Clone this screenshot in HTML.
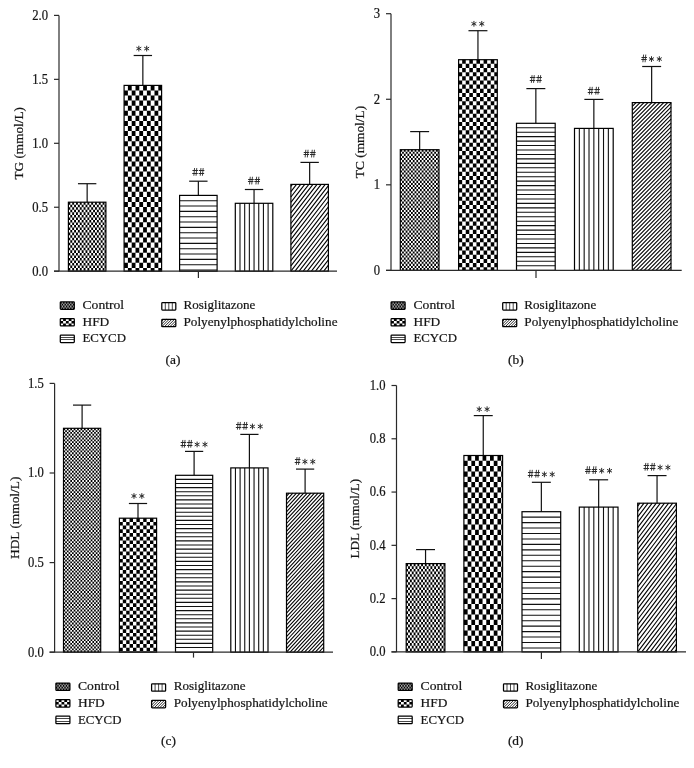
<!DOCTYPE html>
<html><head><meta charset="utf-8"><style>
html,body{margin:0;padding:0;background:#fff;width:694px;height:768px;overflow:hidden}
svg{display:block;will-change:transform}
.t{font-family:"Liberation Serif", serif;font-size:13.4px;fill:#151515;stroke:#151515;stroke-width:0.22px}
.n{font-family:"Liberation Serif", serif;font-size:13.6px;fill:#151515;stroke:#151515;stroke-width:0.22px}
</style></head><body>
<svg width="694" height="768" viewBox="0 0 694 768">
<rect width="694" height="768" fill="#fff"/>
<line x1="59" y1="15.4" x2="59" y2="271.2" stroke="#2a2a2a" stroke-width="1.2"/>
<line x1="54" y1="271.20" x2="59" y2="271.20" stroke="#2a2a2a" stroke-width="1.2"/>
<text transform="translate(48.10 275.60) scale(0.93 1)" text-anchor="end" class="n">0.0</text>
<line x1="54" y1="207.25" x2="59" y2="207.25" stroke="#2a2a2a" stroke-width="1.2"/>
<text transform="translate(48.10 211.65) scale(0.93 1)" text-anchor="end" class="n">0.5</text>
<line x1="54" y1="143.30" x2="59" y2="143.30" stroke="#2a2a2a" stroke-width="1.2"/>
<text transform="translate(48.10 147.70) scale(0.93 1)" text-anchor="end" class="n">1.0</text>
<line x1="54" y1="79.35" x2="59" y2="79.35" stroke="#2a2a2a" stroke-width="1.2"/>
<text transform="translate(48.10 83.75) scale(0.93 1)" text-anchor="end" class="n">1.5</text>
<line x1="54" y1="15.40" x2="59" y2="15.40" stroke="#2a2a2a" stroke-width="1.2"/>
<text transform="translate(48.10 19.80) scale(0.93 1)" text-anchor="end" class="n">2.0</text>
<line x1="87.15" y1="183.7" x2="87.15" y2="202.2" stroke="#111" stroke-width="1.2"/>
<line x1="77.96" y1="183.7" x2="96.34" y2="183.7" stroke="#111" stroke-width="1.2"/>
<rect x="68.4" y="202.2" width="37.5" height="69.00" fill="#fff"/>
<path d="M68.40 202.20H70.30V271.20H68.40ZM72.20 202.20H74.10V271.20H72.20ZM76.00 202.20H77.90V271.20H76.00ZM79.80 202.20H81.70V271.20H79.80ZM83.60 202.20H85.50V271.20H83.60ZM87.40 202.20H89.30V271.20H87.40ZM91.20 202.20H93.10V271.20H91.20ZM95.00 202.20H96.90V271.20H95.00ZM98.80 202.20H100.70V271.20H98.80ZM102.60 202.20H104.50V271.20H102.60ZM68.40 204.73H105.90V207.27H68.40ZM68.40 209.80H105.90V212.34H68.40ZM68.40 214.88H105.90V217.41H68.40ZM68.40 219.94H105.90V222.48H68.40ZM68.40 225.01H105.90V227.55H68.40ZM68.40 230.08H105.90V232.62H68.40ZM68.40 235.15H105.90V237.69H68.40ZM68.40 240.22H105.90V242.76H68.40ZM68.40 245.29H105.90V247.83H68.40ZM68.40 250.37H105.90V252.90H68.40ZM68.40 255.44H105.90V257.97H68.40ZM68.40 260.50H105.90V263.04H68.40ZM68.40 265.57H105.90V268.11H68.40ZM68.40 270.64H105.90V271.20H68.40Z" fill="#000" fill-rule="evenodd"/>
<rect x="68.4" y="202.2" width="37.5" height="69.00" fill="none" stroke="#000" stroke-width="1.2"/>
<line x1="142.85" y1="55.5" x2="142.85" y2="85.4" stroke="#111" stroke-width="1.2"/>
<line x1="133.66" y1="55.5" x2="152.04" y2="55.5" stroke="#111" stroke-width="1.2"/>
<rect x="124.1" y="85.4" width="37.5" height="185.80" fill="#fff"/>
<path d="M127.90 85.40H131.70V271.20H127.90ZM135.50 85.40H139.30V271.20H135.50ZM143.10 85.40H146.90V271.20H143.10ZM150.70 85.40H154.50V271.20H150.70ZM158.30 85.40H161.60V271.20H158.30ZM124.10 90.47H161.60V95.54H124.10ZM124.10 100.61H161.60V105.68H124.10ZM124.10 110.75H161.60V115.82H124.10ZM124.10 120.89H161.60V125.96H124.10ZM124.10 131.03H161.60V136.10H124.10ZM124.10 141.17H161.60V146.24H124.10ZM124.10 151.31H161.60V156.38H124.10ZM124.10 161.45H161.60V166.52H124.10ZM124.10 171.59H161.60V176.66H124.10ZM124.10 181.73H161.60V186.80H124.10ZM124.10 191.87H161.60V196.94H124.10ZM124.10 202.01H161.60V207.08H124.10ZM124.10 212.15H161.60V217.22H124.10ZM124.10 222.29H161.60V227.36H124.10ZM124.10 232.43H161.60V237.50H124.10ZM124.10 242.57H161.60V247.64H124.10ZM124.10 252.71H161.60V257.78H124.10ZM124.10 262.85H161.60V267.92H124.10Z" fill="#000" fill-rule="evenodd"/>
<rect x="124.1" y="85.4" width="37.5" height="185.80" fill="none" stroke="#000" stroke-width="1.2"/>
<path d="M138.83 46.15L138.83 51.05M140.95 47.38L136.70 49.83M140.95 49.83L136.70 47.38" stroke="#2a2a2a" stroke-width="1.0" stroke-linecap="round"/><path d="M146.68 46.15L146.68 51.05M148.80 47.38L144.55 49.83M148.80 49.83L144.55 47.38" stroke="#2a2a2a" stroke-width="1.0" stroke-linecap="round"/>
<line x1="198.35" y1="181.2" x2="198.35" y2="195.4" stroke="#111" stroke-width="1.2"/>
<line x1="189.16" y1="181.2" x2="207.54" y2="181.2" stroke="#111" stroke-width="1.2"/>
<rect x="179.6" y="195.4" width="37.5" height="75.80" fill="#fff"/>
<path d="M179.60 200.73H217.10M179.60 206.06H217.10M179.60 211.39H217.10M179.60 216.72H217.10M179.60 222.05H217.10M179.60 227.38H217.10M179.60 232.71H217.10M179.60 238.04H217.10M179.60 243.37H217.10M179.60 248.70H217.10M179.60 254.03H217.10M179.60 259.36H217.10M179.60 264.69H217.10M179.60 270.02H217.10" stroke="#111" stroke-width="1.1"/>
<rect x="179.6" y="195.4" width="37.5" height="75.80" fill="none" stroke="#000" stroke-width="1.2"/>
<path d="M194.55 168.05L193.85 175.75M196.75 168.05L196.05 175.75" stroke="#2a2a2a" stroke-width="0.9"/><path d="M192.45 170.50H197.95M192.25 173.50H197.75" stroke="#2a2a2a" stroke-width="1.0"/><path d="M200.95 168.05L200.25 175.75M203.15 168.05L202.45 175.75" stroke="#2a2a2a" stroke-width="0.9"/><path d="M198.85 170.50H204.35M198.65 173.50H204.15" stroke="#2a2a2a" stroke-width="1.0"/>
<line x1="254.05" y1="189.5" x2="254.05" y2="203.3" stroke="#111" stroke-width="1.2"/>
<line x1="244.86" y1="189.5" x2="263.24" y2="189.5" stroke="#111" stroke-width="1.2"/>
<rect x="235.3" y="203.3" width="37.5" height="67.90" fill="#fff"/>
<path d="M239.99 203.30V271.20M244.68 203.30V271.20M249.36 203.30V271.20M254.05 203.30V271.20M258.74 203.30V271.20M263.43 203.30V271.20M268.11 203.30V271.20" stroke="#111" stroke-width="1.1"/>
<rect x="235.3" y="203.3" width="37.5" height="67.90" fill="none" stroke="#000" stroke-width="1.2"/>
<path d="M250.25 176.75L249.55 184.45M252.45 176.75L251.75 184.45" stroke="#2a2a2a" stroke-width="0.9"/><path d="M248.15 179.50H253.65M247.95 181.50H253.45" stroke="#2a2a2a" stroke-width="1.0"/><path d="M256.65 176.75L255.95 184.45M258.85 176.75L258.15 184.45" stroke="#2a2a2a" stroke-width="0.9"/><path d="M254.55 179.50H260.05M254.35 181.50H259.85" stroke="#2a2a2a" stroke-width="1.0"/>
<line x1="309.65" y1="162.4" x2="309.65" y2="184.4" stroke="#111" stroke-width="1.2"/>
<line x1="300.46" y1="162.4" x2="318.84" y2="162.4" stroke="#111" stroke-width="1.2"/>
<rect x="290.9" y="184.4" width="37.5" height="86.80" fill="#fff"/>
<path d="M290.90 186.40L292.45 184.40M290.90 191.70L296.55 184.40M290.90 197.00L300.65 184.40M290.90 202.30L304.75 184.40M290.90 207.60L308.85 184.40M290.90 212.90L312.95 184.40M290.90 218.20L317.05 184.40M290.90 223.50L321.15 184.40M290.90 228.80L325.25 184.40M290.90 234.10L328.40 185.62M290.90 239.40L328.40 190.92M290.90 244.70L328.40 196.22M290.90 250.00L328.40 201.52M290.90 255.30L328.40 206.82M290.90 260.60L328.40 212.12M290.90 265.90L328.40 217.42M290.90 271.20L328.40 222.72M295.00 271.20L328.40 228.02M299.10 271.20L328.40 233.32M303.20 271.20L328.40 238.62M307.30 271.20L328.40 243.92M311.40 271.20L328.40 249.22M315.50 271.20L328.40 254.52M319.60 271.20L328.40 259.82M323.70 271.20L328.40 265.12M327.80 271.20L328.40 270.42" stroke="#000" stroke-width="1.1"/>
<rect x="290.9" y="184.4" width="37.5" height="86.80" fill="none" stroke="#000" stroke-width="1.2"/>
<path d="M305.85 149.75L305.15 157.45M308.05 149.75L307.35 157.45" stroke="#2a2a2a" stroke-width="0.9"/><path d="M303.75 152.50H309.25M303.55 154.50H309.05" stroke="#2a2a2a" stroke-width="1.0"/><path d="M312.25 149.75L311.55 157.45M314.45 149.75L313.75 157.45" stroke="#2a2a2a" stroke-width="0.9"/><path d="M310.15 152.50H315.65M309.95 154.50H315.45" stroke="#2a2a2a" stroke-width="1.0"/>
<line x1="54" y1="271.2" x2="337" y2="271.2" stroke="#2a2a2a" stroke-width="1.2"/>
<line x1="198.4" y1="271.2" x2="198.4" y2="278" stroke="#2a2a2a" stroke-width="1.2"/>
<text transform="translate(22.8 143.30) rotate(-90)" text-anchor="middle" class="t" textLength="72.4" lengthAdjust="spacingAndGlyphs">TG (mmol/L)</text>
<rect x="60.30" y="301.90" width="14.0" height="7.4" fill="#aaa"/>
<path d="M60.30 301.90H61.70V309.30H60.30ZM63.10 301.90H64.50V309.30H63.10ZM65.90 301.90H67.30V309.30H65.90ZM68.70 301.90H70.10V309.30H68.70ZM71.50 301.90H72.90V309.30H71.50ZM60.30 303.75H74.30V305.60H60.30ZM60.30 307.45H74.30V309.30H60.30Z" fill="#000" fill-rule="evenodd"/>
<rect x="60.30" y="301.90" width="14.0" height="7.4" rx="0.7" fill="none" stroke="#000" stroke-width="1.25"/>
<text x="82.50" y="308.70" class="t" textLength="41.6" lengthAdjust="spacingAndGlyphs">Control</text>
<rect x="60.30" y="318.50" width="14.0" height="7.4" fill="#fff"/>
<path d="M63.10 318.50H65.90V325.90H63.10ZM68.70 318.50H71.50V325.90H68.70ZM60.30 320.97H74.30V323.44H60.30Z" fill="#000" fill-rule="evenodd"/>
<rect x="60.30" y="318.50" width="14.0" height="7.4" rx="0.7" fill="none" stroke="#000" stroke-width="1.25"/>
<text x="82.50" y="325.57" class="t" textLength="26.8" lengthAdjust="spacingAndGlyphs">HFD</text>
<rect x="60.30" y="335.10" width="14.0" height="7.4" fill="#fff"/>
<path d="M60.30 337.5H74.30M60.30 339.5H74.30" stroke="#333" stroke-width="0.9"/>
<rect x="60.30" y="335.10" width="14.0" height="7.4" rx="0.7" fill="none" stroke="#000" stroke-width="1.25"/>
<text x="82.50" y="342.45" class="t" textLength="43.4" lengthAdjust="spacingAndGlyphs">ECYCD</text>
<rect x="161.80" y="302.65" width="14.0" height="7.4" fill="#fff"/>
<path d="M165.30 302.65V310.05M168.80 302.65V310.05M172.30 302.65V310.05" stroke="#333" stroke-width="0.9"/>
<rect x="161.80" y="302.65" width="14.0" height="7.4" rx="0.7" fill="none" stroke="#000" stroke-width="1.25"/>
<text x="183.50" y="309.20" class="t" textLength="71.9" lengthAdjust="spacingAndGlyphs">Rosiglitazone</text>
<rect x="161.80" y="319.25" width="14.0" height="7.4" fill="#fff"/>
<path d="M161.80 321.25L163.80 319.25M161.80 323.95L166.50 319.25M161.80 326.65L169.20 319.25M164.50 326.65L171.90 319.25M167.20 326.65L174.60 319.25M169.90 326.65L175.80 320.75M172.60 326.65L175.80 323.45M175.30 326.65L175.80 326.15" stroke="#111" stroke-width="0.9"/>
<rect x="161.80" y="319.25" width="14.0" height="7.4" rx="0.7" fill="none" stroke="#000" stroke-width="1.25"/>
<text x="183.50" y="326.07" class="t" textLength="154.0" lengthAdjust="spacingAndGlyphs">Polyenylphosphatidylcholine</text>
<text x="173" y="364.0" text-anchor="middle" class="t">(a)</text>
<line x1="391" y1="13.7" x2="391" y2="270.4" stroke="#2a2a2a" stroke-width="1.2"/>
<line x1="386" y1="270.40" x2="391" y2="270.40" stroke="#2a2a2a" stroke-width="1.2"/>
<text transform="translate(380.10 274.80) scale(0.93 1)" text-anchor="end" class="n">0</text>
<line x1="386" y1="184.83" x2="391" y2="184.83" stroke="#2a2a2a" stroke-width="1.2"/>
<text transform="translate(380.10 189.23) scale(0.93 1)" text-anchor="end" class="n">1</text>
<line x1="386" y1="99.27" x2="391" y2="99.27" stroke="#2a2a2a" stroke-width="1.2"/>
<text transform="translate(380.10 103.67) scale(0.93 1)" text-anchor="end" class="n">2</text>
<line x1="386" y1="13.70" x2="391" y2="13.70" stroke="#2a2a2a" stroke-width="1.2"/>
<text transform="translate(380.10 18.10) scale(0.93 1)" text-anchor="end" class="n">3</text>
<line x1="419.65" y1="131.6" x2="419.65" y2="149.7" stroke="#111" stroke-width="1.2"/>
<line x1="410.17" y1="131.6" x2="429.13" y2="131.6" stroke="#111" stroke-width="1.2"/>
<rect x="400.3" y="149.7" width="38.7" height="120.70" fill="#fff"/>
<path d="M400.30 149.70H402.09V270.40H400.30ZM403.87 149.70H405.66V270.40H403.87ZM407.44 149.70H409.23V270.40H407.44ZM411.01 149.70H412.80V270.40H411.01ZM414.58 149.70H416.37V270.40H414.58ZM418.15 149.70H419.94V270.40H418.15ZM421.72 149.70H423.50V270.40H421.72ZM425.29 149.70H427.07V270.40H425.29ZM428.86 149.70H430.64V270.40H428.86ZM432.43 149.70H434.22V270.40H432.43ZM436.00 149.70H437.79V270.40H436.00ZM400.30 151.77H439.00V153.85H400.30ZM400.30 155.92H439.00V158.00H400.30ZM400.30 160.07H439.00V162.15H400.30ZM400.30 164.22H439.00V166.30H400.30ZM400.30 168.38H439.00V170.45H400.30ZM400.30 172.52H439.00V174.60H400.30ZM400.30 176.67H439.00V178.75H400.30ZM400.30 180.82H439.00V182.90H400.30ZM400.30 184.97H439.00V187.05H400.30ZM400.30 189.12H439.00V191.20H400.30ZM400.30 193.27H439.00V195.35H400.30ZM400.30 197.42H439.00V199.50H400.30ZM400.30 201.57H439.00V203.65H400.30ZM400.30 205.72H439.00V207.80H400.30ZM400.30 209.88H439.00V211.95H400.30ZM400.30 214.02H439.00V216.10H400.30ZM400.30 218.18H439.00V220.25H400.30ZM400.30 222.32H439.00V224.40H400.30ZM400.30 226.47H439.00V228.55H400.30ZM400.30 230.62H439.00V232.70H400.30ZM400.30 234.77H439.00V236.85H400.30ZM400.30 238.93H439.00V241.00H400.30ZM400.30 243.07H439.00V245.15H400.30ZM400.30 247.22H439.00V249.30H400.30ZM400.30 251.38H439.00V253.45H400.30ZM400.30 255.52H439.00V257.60H400.30ZM400.30 259.68H439.00V261.75H400.30ZM400.30 263.82H439.00V265.90H400.30ZM400.30 267.98H439.00V270.05H400.30Z" fill="#000" fill-rule="evenodd"/>
<rect x="400.3" y="149.7" width="38.7" height="120.70" fill="none" stroke="#000" stroke-width="1.2"/>
<line x1="477.95" y1="30.7" x2="477.95" y2="59.7" stroke="#111" stroke-width="1.2"/>
<line x1="468.47" y1="30.7" x2="487.43" y2="30.7" stroke="#111" stroke-width="1.2"/>
<rect x="458.6" y="59.7" width="38.7" height="210.70" fill="#fff"/>
<path d="M462.17 59.70H465.74V270.40H462.17ZM469.31 59.70H472.88V270.40H469.31ZM476.45 59.70H480.02V270.40H476.45ZM483.59 59.70H487.16V270.40H483.59ZM490.73 59.70H494.30V270.40H490.73ZM458.60 63.85H497.30V68.00H458.60ZM458.60 72.15H497.30V76.30H458.60ZM458.60 80.45H497.30V84.60H458.60ZM458.60 88.75H497.30V92.90H458.60ZM458.60 97.05H497.30V101.20H458.60ZM458.60 105.35H497.30V109.50H458.60ZM458.60 113.65H497.30V117.80H458.60ZM458.60 121.95H497.30V126.10H458.60ZM458.60 130.25H497.30V134.40H458.60ZM458.60 138.55H497.30V142.70H458.60ZM458.60 146.85H497.30V151.00H458.60ZM458.60 155.15H497.30V159.30H458.60ZM458.60 163.45H497.30V167.60H458.60ZM458.60 171.75H497.30V175.90H458.60ZM458.60 180.05H497.30V184.20H458.60ZM458.60 188.35H497.30V192.50H458.60ZM458.60 196.65H497.30V200.80H458.60ZM458.60 204.95H497.30V209.10H458.60ZM458.60 213.25H497.30V217.40H458.60ZM458.60 221.55H497.30V225.70H458.60ZM458.60 229.85H497.30V234.00H458.60ZM458.60 238.15H497.30V242.30H458.60ZM458.60 246.45H497.30V250.60H458.60ZM458.60 254.75H497.30V258.90H458.60ZM458.60 263.05H497.30V267.20H458.60Z" fill="#000" fill-rule="evenodd"/>
<rect x="458.6" y="59.7" width="38.7" height="210.70" fill="none" stroke="#000" stroke-width="1.2"/>
<path d="M473.93 21.35L473.93 26.25M476.05 22.57L471.80 25.03M476.05 25.03L471.80 22.57" stroke="#2a2a2a" stroke-width="1.0" stroke-linecap="round"/><path d="M481.78 21.35L481.78 26.25M483.90 22.57L479.65 25.03M483.90 25.03L479.65 22.57" stroke="#2a2a2a" stroke-width="1.0" stroke-linecap="round"/>
<line x1="535.85" y1="88.6" x2="535.85" y2="123.3" stroke="#111" stroke-width="1.2"/>
<line x1="526.37" y1="88.6" x2="545.33" y2="88.6" stroke="#111" stroke-width="1.2"/>
<rect x="516.5" y="123.3" width="38.7" height="147.10" fill="#fff"/>
<path d="M516.50 127.75H555.20M516.50 132.20H555.20M516.50 136.65H555.20M516.50 141.10H555.20M516.50 145.55H555.20M516.50 150.00H555.20M516.50 154.45H555.20M516.50 158.90H555.20M516.50 163.35H555.20M516.50 167.80H555.20M516.50 172.25H555.20M516.50 176.70H555.20M516.50 181.15H555.20M516.50 185.60H555.20M516.50 190.05H555.20M516.50 194.50H555.20M516.50 198.95H555.20M516.50 203.40H555.20M516.50 207.85H555.20M516.50 212.30H555.20M516.50 216.75H555.20M516.50 221.20H555.20M516.50 225.65H555.20M516.50 230.10H555.20M516.50 234.55H555.20M516.50 239.00H555.20M516.50 243.45H555.20M516.50 247.90H555.20M516.50 252.35H555.20M516.50 256.80H555.20M516.50 261.25H555.20M516.50 265.70H555.20" stroke="#111" stroke-width="1.1"/>
<rect x="516.5" y="123.3" width="38.7" height="147.10" fill="none" stroke="#000" stroke-width="1.2"/>
<path d="M532.05 75.15L531.35 82.85M534.25 75.15L533.55 82.85" stroke="#2a2a2a" stroke-width="0.9"/><path d="M529.95 77.50H535.45M529.75 80.50H535.25" stroke="#2a2a2a" stroke-width="1.0"/><path d="M538.45 75.15L537.75 82.85M540.65 75.15L539.95 82.85" stroke="#2a2a2a" stroke-width="0.9"/><path d="M536.35 77.50H541.85M536.15 80.50H541.65" stroke="#2a2a2a" stroke-width="1.0"/>
<line x1="593.85" y1="99.4" x2="593.85" y2="128.4" stroke="#111" stroke-width="1.2"/>
<line x1="584.37" y1="99.4" x2="603.33" y2="99.4" stroke="#111" stroke-width="1.2"/>
<rect x="574.5" y="128.4" width="38.7" height="142.00" fill="#fff"/>
<path d="M579.34 128.40V270.40M584.17 128.40V270.40M589.01 128.40V270.40M593.85 128.40V270.40M598.69 128.40V270.40M603.52 128.40V270.40M608.36 128.40V270.40" stroke="#111" stroke-width="1.1"/>
<rect x="574.5" y="128.4" width="38.7" height="142.00" fill="none" stroke="#000" stroke-width="1.2"/>
<path d="M590.05 86.85L589.35 94.55M592.25 86.85L591.55 94.55" stroke="#2a2a2a" stroke-width="0.9"/><path d="M587.95 89.50H593.45M587.75 92.50H593.25" stroke="#2a2a2a" stroke-width="1.0"/><path d="M596.45 86.85L595.75 94.55M598.65 86.85L597.95 94.55" stroke="#2a2a2a" stroke-width="0.9"/><path d="M594.35 89.50H599.85M594.15 92.50H599.65" stroke="#2a2a2a" stroke-width="1.0"/>
<line x1="651.65" y1="66.5" x2="651.65" y2="102.6" stroke="#111" stroke-width="1.2"/>
<line x1="642.17" y1="66.5" x2="661.13" y2="66.5" stroke="#111" stroke-width="1.2"/>
<rect x="632.3" y="102.6" width="38.7" height="167.80" fill="#fff"/>
<path d="M632.30 106.40L636.05 102.60M632.30 110.40L640.00 102.60M632.30 114.40L643.95 102.60M632.30 118.40L647.90 102.60M632.30 122.40L651.85 102.60M632.30 126.40L655.80 102.60M632.30 130.40L659.75 102.60M632.30 134.40L663.70 102.60M632.30 138.40L667.65 102.60M632.30 142.40L671.00 103.21M632.30 146.40L671.00 107.21M632.30 150.40L671.00 111.21M632.30 154.40L671.00 115.21M632.30 158.40L671.00 119.21M632.30 162.40L671.00 123.21M632.30 166.40L671.00 127.21M632.30 170.40L671.00 131.21M632.30 174.40L671.00 135.21M632.30 178.40L671.00 139.21M632.30 182.40L671.00 143.21M632.30 186.40L671.00 147.21M632.30 190.40L671.00 151.21M632.30 194.40L671.00 155.21M632.30 198.40L671.00 159.21M632.30 202.40L671.00 163.21M632.30 206.40L671.00 167.21M632.30 210.40L671.00 171.21M632.30 214.40L671.00 175.21M632.30 218.40L671.00 179.21M632.30 222.40L671.00 183.21M632.30 226.40L671.00 187.21M632.30 230.40L671.00 191.21M632.30 234.40L671.00 195.21M632.30 238.40L671.00 199.21M632.30 242.40L671.00 203.21M632.30 246.40L671.00 207.21M632.30 250.40L671.00 211.21M632.30 254.40L671.00 215.21M632.30 258.40L671.00 219.21M632.30 262.40L671.00 223.21M632.30 266.40L671.00 227.21M632.30 270.40L671.00 231.21M636.25 270.40L671.00 235.21M640.20 270.40L671.00 239.21M644.15 270.40L671.00 243.21M648.10 270.40L671.00 247.21M652.05 270.40L671.00 251.21M656.00 270.40L671.00 255.21M659.95 270.40L671.00 259.21M663.90 270.40L671.00 263.21M667.85 270.40L671.00 267.21" stroke="#000" stroke-width="1.1"/>
<rect x="632.3" y="102.6" width="38.7" height="167.80" fill="none" stroke="#000" stroke-width="1.2"/>
<path d="M643.58 54.55L642.88 62.25M645.77 54.55L645.08 62.25" stroke="#2a2a2a" stroke-width="0.9"/><path d="M641.48 57.50H646.98M641.27 59.50H646.77" stroke="#2a2a2a" stroke-width="1.0"/><path d="M651.48 56.60L651.48 61.50M653.60 57.82L649.35 60.27M653.60 60.27L649.35 57.82" stroke="#2a2a2a" stroke-width="1.0" stroke-linecap="round"/><path d="M659.32 56.60L659.32 61.50M661.45 57.82L657.20 60.27M661.45 60.27L657.20 57.82" stroke="#2a2a2a" stroke-width="1.0" stroke-linecap="round"/>
<line x1="386" y1="270.4" x2="681.7" y2="270.4" stroke="#2a2a2a" stroke-width="1.2"/>
<line x1="536" y1="270.4" x2="536" y2="278" stroke="#2a2a2a" stroke-width="1.2"/>
<text transform="translate(363.9 142.05) rotate(-90)" text-anchor="middle" class="t" textLength="72.4" lengthAdjust="spacingAndGlyphs">TC (mmol/L)</text>
<rect x="391.10" y="301.90" width="14.0" height="7.4" fill="#aaa"/>
<path d="M391.10 301.90H392.50V309.30H391.10ZM393.90 301.90H395.30V309.30H393.90ZM396.70 301.90H398.10V309.30H396.70ZM399.50 301.90H400.90V309.30H399.50ZM402.30 301.90H403.70V309.30H402.30ZM391.10 303.75H405.10V305.60H391.10ZM391.10 307.45H405.10V309.30H391.10Z" fill="#000" fill-rule="evenodd"/>
<rect x="391.10" y="301.90" width="14.0" height="7.4" rx="0.7" fill="none" stroke="#000" stroke-width="1.25"/>
<text x="413.50" y="308.70" class="t" textLength="41.6" lengthAdjust="spacingAndGlyphs">Control</text>
<rect x="391.10" y="318.50" width="14.0" height="7.4" fill="#fff"/>
<path d="M393.90 318.50H396.70V325.90H393.90ZM399.50 318.50H402.30V325.90H399.50ZM391.10 320.97H405.10V323.44H391.10Z" fill="#000" fill-rule="evenodd"/>
<rect x="391.10" y="318.50" width="14.0" height="7.4" rx="0.7" fill="none" stroke="#000" stroke-width="1.25"/>
<text x="413.50" y="325.57" class="t" textLength="26.8" lengthAdjust="spacingAndGlyphs">HFD</text>
<rect x="391.10" y="335.10" width="14.0" height="7.4" fill="#fff"/>
<path d="M391.10 337.5H405.10M391.10 339.5H405.10" stroke="#333" stroke-width="0.9"/>
<rect x="391.10" y="335.10" width="14.0" height="7.4" rx="0.7" fill="none" stroke="#000" stroke-width="1.25"/>
<text x="413.50" y="342.45" class="t" textLength="43.4" lengthAdjust="spacingAndGlyphs">ECYCD</text>
<rect x="502.70" y="302.65" width="14.0" height="7.4" fill="#fff"/>
<path d="M506.20 302.65V310.05M509.70 302.65V310.05M513.20 302.65V310.05" stroke="#333" stroke-width="0.9"/>
<rect x="502.70" y="302.65" width="14.0" height="7.4" rx="0.7" fill="none" stroke="#000" stroke-width="1.25"/>
<text x="524.30" y="309.20" class="t" textLength="71.9" lengthAdjust="spacingAndGlyphs">Rosiglitazone</text>
<rect x="502.70" y="319.25" width="14.0" height="7.4" fill="#fff"/>
<path d="M502.70 321.25L504.70 319.25M502.70 323.95L507.40 319.25M502.70 326.65L510.10 319.25M505.40 326.65L512.80 319.25M508.10 326.65L515.50 319.25M510.80 326.65L516.70 320.75M513.50 326.65L516.70 323.45M516.20 326.65L516.70 326.15" stroke="#111" stroke-width="0.9"/>
<rect x="502.70" y="319.25" width="14.0" height="7.4" rx="0.7" fill="none" stroke="#000" stroke-width="1.25"/>
<text x="524.30" y="326.07" class="t" textLength="154.0" lengthAdjust="spacingAndGlyphs">Polyenylphosphatidylcholine</text>
<text x="515.9" y="364.0" text-anchor="middle" class="t">(b)</text>
<line x1="54.6" y1="383.4" x2="54.6" y2="652.2" stroke="#2a2a2a" stroke-width="1.2"/>
<line x1="49.6" y1="652.20" x2="54.6" y2="652.20" stroke="#2a2a2a" stroke-width="1.2"/>
<text transform="translate(43.70 656.60) scale(0.93 1)" text-anchor="end" class="n">0.0</text>
<line x1="49.6" y1="562.60" x2="54.6" y2="562.60" stroke="#2a2a2a" stroke-width="1.2"/>
<text transform="translate(43.70 567.00) scale(0.93 1)" text-anchor="end" class="n">0.5</text>
<line x1="49.6" y1="473.00" x2="54.6" y2="473.00" stroke="#2a2a2a" stroke-width="1.2"/>
<text transform="translate(43.70 477.40) scale(0.93 1)" text-anchor="end" class="n">1.0</text>
<line x1="49.6" y1="383.40" x2="54.6" y2="383.40" stroke="#2a2a2a" stroke-width="1.2"/>
<text transform="translate(43.70 387.80) scale(0.93 1)" text-anchor="end" class="n">1.5</text>
<line x1="82.10" y1="405.1" x2="82.10" y2="428.3" stroke="#111" stroke-width="1.2"/>
<line x1="72.99" y1="405.1" x2="91.21" y2="405.1" stroke="#111" stroke-width="1.2"/>
<rect x="63.5" y="428.3" width="37.2" height="223.90" fill="#fff"/>
<path d="M63.50 428.30H65.20V652.20H63.50ZM66.90 428.30H68.60V652.20H66.90ZM70.30 428.30H72.00V652.20H70.30ZM73.70 428.30H75.40V652.20H73.70ZM77.10 428.30H78.80V652.20H77.10ZM80.50 428.30H82.20V652.20H80.50ZM83.90 428.30H85.60V652.20H83.90ZM87.30 428.30H89.00V652.20H87.30ZM90.70 428.30H92.40V652.20H90.70ZM94.10 428.30H95.80V652.20H94.10ZM97.50 428.30H99.20V652.20H97.50ZM63.50 430.15H100.70V432.00H63.50ZM63.50 433.85H100.70V435.70H63.50ZM63.50 437.55H100.70V439.40H63.50ZM63.50 441.25H100.70V443.10H63.50ZM63.50 444.95H100.70V446.80H63.50ZM63.50 448.65H100.70V450.50H63.50ZM63.50 452.35H100.70V454.20H63.50ZM63.50 456.05H100.70V457.90H63.50ZM63.50 459.75H100.70V461.60H63.50ZM63.50 463.45H100.70V465.30H63.50ZM63.50 467.15H100.70V469.00H63.50ZM63.50 470.85H100.70V472.70H63.50ZM63.50 474.55H100.70V476.40H63.50ZM63.50 478.25H100.70V480.10H63.50ZM63.50 481.95H100.70V483.80H63.50ZM63.50 485.65H100.70V487.50H63.50ZM63.50 489.35H100.70V491.20H63.50ZM63.50 493.05H100.70V494.90H63.50ZM63.50 496.75H100.70V498.60H63.50ZM63.50 500.45H100.70V502.30H63.50ZM63.50 504.15H100.70V506.00H63.50ZM63.50 507.85H100.70V509.70H63.50ZM63.50 511.55H100.70V513.40H63.50ZM63.50 515.25H100.70V517.10H63.50ZM63.50 518.95H100.70V520.80H63.50ZM63.50 522.65H100.70V524.50H63.50ZM63.50 526.35H100.70V528.20H63.50ZM63.50 530.05H100.70V531.90H63.50ZM63.50 533.75H100.70V535.60H63.50ZM63.50 537.45H100.70V539.30H63.50ZM63.50 541.15H100.70V543.00H63.50ZM63.50 544.85H100.70V546.70H63.50ZM63.50 548.55H100.70V550.40H63.50ZM63.50 552.25H100.70V554.10H63.50ZM63.50 555.95H100.70V557.80H63.50ZM63.50 559.65H100.70V561.50H63.50ZM63.50 563.35H100.70V565.20H63.50ZM63.50 567.05H100.70V568.90H63.50ZM63.50 570.75H100.70V572.60H63.50ZM63.50 574.45H100.70V576.30H63.50ZM63.50 578.15H100.70V580.00H63.50ZM63.50 581.85H100.70V583.70H63.50ZM63.50 585.55H100.70V587.40H63.50ZM63.50 589.25H100.70V591.10H63.50ZM63.50 592.95H100.70V594.80H63.50ZM63.50 596.65H100.70V598.50H63.50ZM63.50 600.35H100.70V602.20H63.50ZM63.50 604.05H100.70V605.90H63.50ZM63.50 607.75H100.70V609.60H63.50ZM63.50 611.45H100.70V613.30H63.50ZM63.50 615.15H100.70V617.00H63.50ZM63.50 618.85H100.70V620.70H63.50ZM63.50 622.55H100.70V624.40H63.50ZM63.50 626.25H100.70V628.10H63.50ZM63.50 629.95H100.70V631.80H63.50ZM63.50 633.65H100.70V635.50H63.50ZM63.50 637.35H100.70V639.20H63.50ZM63.50 641.05H100.70V642.90H63.50ZM63.50 644.75H100.70V646.60H63.50ZM63.50 648.45H100.70V650.30H63.50ZM63.50 652.15H100.70V652.20H63.50Z" fill="#000" fill-rule="evenodd"/>
<rect x="63.5" y="428.3" width="37.2" height="223.90" fill="none" stroke="#000" stroke-width="1.2"/>
<line x1="138.00" y1="503.5" x2="138.00" y2="518.2" stroke="#111" stroke-width="1.2"/>
<line x1="128.89" y1="503.5" x2="147.11" y2="503.5" stroke="#111" stroke-width="1.2"/>
<rect x="119.4" y="518.2" width="37.2" height="134.00" fill="#fff"/>
<path d="M122.80 518.20H126.20V652.20H122.80ZM129.60 518.20H133.00V652.20H129.60ZM136.40 518.20H139.80V652.20H136.40ZM143.20 518.20H146.60V652.20H143.20ZM150.00 518.20H153.40V652.20H150.00ZM119.40 521.90H156.60V525.60H119.40ZM119.40 529.30H156.60V533.00H119.40ZM119.40 536.70H156.60V540.40H119.40ZM119.40 544.10H156.60V547.80H119.40ZM119.40 551.50H156.60V555.20H119.40ZM119.40 558.90H156.60V562.60H119.40ZM119.40 566.30H156.60V570.00H119.40ZM119.40 573.70H156.60V577.40H119.40ZM119.40 581.10H156.60V584.80H119.40ZM119.40 588.50H156.60V592.20H119.40ZM119.40 595.90H156.60V599.60H119.40ZM119.40 603.30H156.60V607.00H119.40ZM119.40 610.70H156.60V614.40H119.40ZM119.40 618.10H156.60V621.80H119.40ZM119.40 625.50H156.60V629.20H119.40ZM119.40 632.90H156.60V636.60H119.40ZM119.40 640.30H156.60V644.00H119.40ZM119.40 647.70H156.60V651.40H119.40Z" fill="#000" fill-rule="evenodd"/>
<rect x="119.4" y="518.2" width="37.2" height="134.00" fill="none" stroke="#000" stroke-width="1.2"/>
<path d="M133.98 493.55L133.98 498.45M136.10 494.77L131.85 497.23M136.10 497.23L131.85 494.77" stroke="#2a2a2a" stroke-width="1.0" stroke-linecap="round"/><path d="M141.83 493.55L141.83 498.45M143.95 494.77L139.70 497.23M143.95 497.23L139.70 494.77" stroke="#2a2a2a" stroke-width="1.0" stroke-linecap="round"/>
<line x1="194.10" y1="451.4" x2="194.10" y2="475.3" stroke="#111" stroke-width="1.2"/>
<line x1="184.99" y1="451.4" x2="203.21" y2="451.4" stroke="#111" stroke-width="1.2"/>
<rect x="175.5" y="475.3" width="37.2" height="176.90" fill="#fff"/>
<path d="M175.50 479.40H212.70M175.50 483.50H212.70M175.50 487.60H212.70M175.50 491.70H212.70M175.50 495.80H212.70M175.50 499.90H212.70M175.50 504.00H212.70M175.50 508.10H212.70M175.50 512.20H212.70M175.50 516.30H212.70M175.50 520.40H212.70M175.50 524.50H212.70M175.50 528.60H212.70M175.50 532.70H212.70M175.50 536.80H212.70M175.50 540.90H212.70M175.50 545.00H212.70M175.50 549.10H212.70M175.50 553.20H212.70M175.50 557.30H212.70M175.50 561.40H212.70M175.50 565.50H212.70M175.50 569.60H212.70M175.50 573.70H212.70M175.50 577.80H212.70M175.50 581.90H212.70M175.50 586.00H212.70M175.50 590.10H212.70M175.50 594.20H212.70M175.50 598.30H212.70M175.50 602.40H212.70M175.50 606.50H212.70M175.50 610.60H212.70M175.50 614.70H212.70M175.50 618.80H212.70M175.50 622.90H212.70M175.50 627.00H212.70M175.50 631.10H212.70M175.50 635.20H212.70M175.50 639.30H212.70M175.50 643.40H212.70M175.50 647.50H212.70" stroke="#111" stroke-width="1.1"/>
<rect x="175.5" y="475.3" width="37.2" height="176.90" fill="none" stroke="#000" stroke-width="1.2"/>
<path d="M182.82 439.95L182.12 447.65M185.03 439.95L184.32 447.65" stroke="#2a2a2a" stroke-width="0.9"/><path d="M180.72 442.50H186.22M180.53 445.50H186.03" stroke="#2a2a2a" stroke-width="1.0"/><path d="M189.22 439.95L188.53 447.65M191.43 439.95L190.72 447.65" stroke="#2a2a2a" stroke-width="0.9"/><path d="M187.12 442.50H192.62M186.93 445.50H192.43" stroke="#2a2a2a" stroke-width="1.0"/><path d="M197.12 442.00L197.12 446.90M199.25 443.22L195.00 445.68M199.25 445.68L195.00 443.22" stroke="#2a2a2a" stroke-width="1.0" stroke-linecap="round"/><path d="M204.98 442.00L204.98 446.90M207.10 443.22L202.85 445.68M207.10 445.68L202.85 443.22" stroke="#2a2a2a" stroke-width="1.0" stroke-linecap="round"/>
<line x1="249.40" y1="434.4" x2="249.40" y2="467.9" stroke="#111" stroke-width="1.2"/>
<line x1="240.29" y1="434.4" x2="258.51" y2="434.4" stroke="#111" stroke-width="1.2"/>
<rect x="230.8" y="467.9" width="37.2" height="184.30" fill="#fff"/>
<path d="M235.45 467.90V652.20M240.10 467.90V652.20M244.75 467.90V652.20M249.40 467.90V652.20M254.05 467.90V652.20M258.70 467.90V652.20M263.35 467.90V652.20" stroke="#111" stroke-width="1.1"/>
<rect x="230.8" y="467.9" width="37.2" height="184.30" fill="none" stroke="#000" stroke-width="1.2"/>
<path d="M238.12 421.95L237.43 429.65M240.33 421.95L239.62 429.65" stroke="#2a2a2a" stroke-width="0.9"/><path d="M236.03 424.50H241.53M235.83 427.50H241.33" stroke="#2a2a2a" stroke-width="1.0"/><path d="M244.53 421.95L243.83 429.65M246.73 421.95L246.03 429.65" stroke="#2a2a2a" stroke-width="0.9"/><path d="M242.43 424.50H247.93M242.23 427.50H247.73" stroke="#2a2a2a" stroke-width="1.0"/><path d="M252.43 424.00L252.43 428.90M254.55 425.22L250.30 427.68M254.55 427.68L250.30 425.22" stroke="#2a2a2a" stroke-width="1.0" stroke-linecap="round"/><path d="M260.28 424.00L260.28 428.90M262.40 425.22L258.15 427.68M262.40 427.68L258.15 425.22" stroke="#2a2a2a" stroke-width="1.0" stroke-linecap="round"/>
<line x1="305.10" y1="469.1" x2="305.10" y2="493.2" stroke="#111" stroke-width="1.2"/>
<line x1="295.99" y1="469.1" x2="314.21" y2="469.1" stroke="#111" stroke-width="1.2"/>
<rect x="286.5" y="493.2" width="37.2" height="159.00" fill="#fff"/>
<path d="M286.50 496.20L289.27 493.20M286.50 500.10L292.87 493.20M286.50 504.00L296.47 493.20M286.50 507.90L300.07 493.20M286.50 511.80L303.67 493.20M286.50 515.70L307.27 493.20M286.50 519.60L310.87 493.20M286.50 523.50L314.47 493.20M286.50 527.40L318.07 493.20M286.50 531.30L321.67 493.20M286.50 535.20L323.70 494.90M286.50 539.10L323.70 498.80M286.50 543.00L323.70 502.70M286.50 546.90L323.70 506.60M286.50 550.80L323.70 510.50M286.50 554.70L323.70 514.40M286.50 558.60L323.70 518.30M286.50 562.50L323.70 522.20M286.50 566.40L323.70 526.10M286.50 570.30L323.70 530.00M286.50 574.20L323.70 533.90M286.50 578.10L323.70 537.80M286.50 582.00L323.70 541.70M286.50 585.90L323.70 545.60M286.50 589.80L323.70 549.50M286.50 593.70L323.70 553.40M286.50 597.60L323.70 557.30M286.50 601.50L323.70 561.20M286.50 605.40L323.70 565.10M286.50 609.30L323.70 569.00M286.50 613.20L323.70 572.90M286.50 617.10L323.70 576.80M286.50 621.00L323.70 580.70M286.50 624.90L323.70 584.60M286.50 628.80L323.70 588.50M286.50 632.70L323.70 592.40M286.50 636.60L323.70 596.30M286.50 640.50L323.70 600.20M286.50 644.40L323.70 604.10M286.50 648.30L323.70 608.00M286.50 652.20L323.70 611.90M290.10 652.20L323.70 615.80M293.70 652.20L323.70 619.70M297.30 652.20L323.70 623.60M300.90 652.20L323.70 627.50M304.50 652.20L323.70 631.40M308.10 652.20L323.70 635.30M311.70 652.20L323.70 639.20M315.30 652.20L323.70 643.10M318.90 652.20L323.70 647.00M322.50 652.20L323.70 650.90" stroke="#000" stroke-width="1.1"/>
<rect x="286.5" y="493.2" width="37.2" height="159.00" fill="none" stroke="#000" stroke-width="1.2"/>
<path d="M297.03 457.15L296.32 464.85M299.23 457.15L298.53 464.85" stroke="#2a2a2a" stroke-width="0.9"/><path d="M294.93 459.50H300.43M294.73 462.50H300.23" stroke="#2a2a2a" stroke-width="1.0"/><path d="M304.93 459.20L304.93 464.10M307.05 460.42L302.80 462.88M307.05 462.88L302.80 460.42" stroke="#2a2a2a" stroke-width="1.0" stroke-linecap="round"/><path d="M312.78 459.20L312.78 464.10M314.90 460.42L310.65 462.88M314.90 462.88L310.65 460.42" stroke="#2a2a2a" stroke-width="1.0" stroke-linecap="round"/>
<line x1="49.6" y1="652.2" x2="333" y2="652.2" stroke="#2a2a2a" stroke-width="1.2"/>
<line x1="193.5" y1="652.2" x2="193.5" y2="657.6" stroke="#2a2a2a" stroke-width="1.2"/>
<text transform="translate(18.5 517.80) rotate(-90)" text-anchor="middle" class="t" textLength="82.3" lengthAdjust="spacingAndGlyphs">HDL (mmol/L)</text>
<rect x="55.90" y="683.00" width="14.0" height="7.4" fill="#aaa"/>
<path d="M55.90 683.00H57.30V690.40H55.90ZM58.70 683.00H60.10V690.40H58.70ZM61.50 683.00H62.90V690.40H61.50ZM64.30 683.00H65.70V690.40H64.30ZM67.10 683.00H68.50V690.40H67.10ZM55.90 684.85H69.90V686.70H55.90ZM55.90 688.55H69.90V690.40H55.90Z" fill="#000" fill-rule="evenodd"/>
<rect x="55.90" y="683.00" width="14.0" height="7.4" rx="0.7" fill="none" stroke="#000" stroke-width="1.25"/>
<text x="78.00" y="689.80" class="t" textLength="41.6" lengthAdjust="spacingAndGlyphs">Control</text>
<rect x="55.90" y="699.60" width="14.0" height="7.4" fill="#fff"/>
<path d="M58.70 699.60H61.50V707.00H58.70ZM64.30 699.60H67.10V707.00H64.30ZM55.90 702.07H69.90V704.54H55.90Z" fill="#000" fill-rule="evenodd"/>
<rect x="55.90" y="699.60" width="14.0" height="7.4" rx="0.7" fill="none" stroke="#000" stroke-width="1.25"/>
<text x="78.00" y="706.67" class="t" textLength="26.8" lengthAdjust="spacingAndGlyphs">HFD</text>
<rect x="55.90" y="716.20" width="14.0" height="7.4" fill="#fff"/>
<path d="M55.90 718.5H69.90M55.90 721.5H69.90" stroke="#333" stroke-width="0.9"/>
<rect x="55.90" y="716.20" width="14.0" height="7.4" rx="0.7" fill="none" stroke="#000" stroke-width="1.25"/>
<text x="78.00" y="723.55" class="t" textLength="43.4" lengthAdjust="spacingAndGlyphs">ECYCD</text>
<rect x="151.60" y="683.75" width="14.0" height="7.4" fill="#fff"/>
<path d="M155.10 683.75V691.15M158.60 683.75V691.15M162.10 683.75V691.15" stroke="#333" stroke-width="0.9"/>
<rect x="151.60" y="683.75" width="14.0" height="7.4" rx="0.7" fill="none" stroke="#000" stroke-width="1.25"/>
<text x="173.70" y="690.30" class="t" textLength="71.9" lengthAdjust="spacingAndGlyphs">Rosiglitazone</text>
<rect x="151.60" y="700.35" width="14.0" height="7.4" fill="#fff"/>
<path d="M151.60 702.35L153.60 700.35M151.60 705.05L156.30 700.35M151.60 707.75L159.00 700.35M154.30 707.75L161.70 700.35M157.00 707.75L164.40 700.35M159.70 707.75L165.60 701.85M162.40 707.75L165.60 704.55M165.10 707.75L165.60 707.25" stroke="#111" stroke-width="0.9"/>
<rect x="151.60" y="700.35" width="14.0" height="7.4" rx="0.7" fill="none" stroke="#000" stroke-width="1.25"/>
<text x="173.70" y="707.17" class="t" textLength="154.0" lengthAdjust="spacingAndGlyphs">Polyenylphosphatidylcholine</text>
<text x="168.5" y="745.0" text-anchor="middle" class="t">(c)</text>
<line x1="396.5" y1="385.5" x2="396.5" y2="651.9" stroke="#2a2a2a" stroke-width="1.2"/>
<line x1="391.5" y1="651.90" x2="396.5" y2="651.90" stroke="#2a2a2a" stroke-width="1.2"/>
<text transform="translate(385.60 656.30) scale(0.93 1)" text-anchor="end" class="n">0.0</text>
<line x1="391.5" y1="598.62" x2="396.5" y2="598.62" stroke="#2a2a2a" stroke-width="1.2"/>
<text transform="translate(385.60 603.02) scale(0.93 1)" text-anchor="end" class="n">0.2</text>
<line x1="391.5" y1="545.34" x2="396.5" y2="545.34" stroke="#2a2a2a" stroke-width="1.2"/>
<text transform="translate(385.60 549.74) scale(0.93 1)" text-anchor="end" class="n">0.4</text>
<line x1="391.5" y1="492.06" x2="396.5" y2="492.06" stroke="#2a2a2a" stroke-width="1.2"/>
<text transform="translate(385.60 496.46) scale(0.93 1)" text-anchor="end" class="n">0.6</text>
<line x1="391.5" y1="438.78" x2="396.5" y2="438.78" stroke="#2a2a2a" stroke-width="1.2"/>
<text transform="translate(385.60 443.18) scale(0.93 1)" text-anchor="end" class="n">0.8</text>
<line x1="391.5" y1="385.50" x2="396.5" y2="385.50" stroke="#2a2a2a" stroke-width="1.2"/>
<text transform="translate(385.60 389.90) scale(0.93 1)" text-anchor="end" class="n">1.0</text>
<line x1="425.55" y1="549.6" x2="425.55" y2="563.6" stroke="#111" stroke-width="1.2"/>
<line x1="416.07" y1="549.6" x2="435.03" y2="549.6" stroke="#111" stroke-width="1.2"/>
<rect x="406.2" y="563.6" width="38.7" height="88.30" fill="#fff"/>
<path d="M406.20 563.60H408.06V651.90H406.20ZM409.93 563.60H411.80V651.90H409.93ZM413.66 563.60H415.52V651.90H413.66ZM417.39 563.60H419.25V651.90H417.39ZM421.12 563.60H422.99V651.90H421.12ZM424.85 563.60H426.71V651.90H424.85ZM428.58 563.60H430.44V651.90H428.58ZM432.31 563.60H434.18V651.90H432.31ZM436.04 563.60H437.90V651.90H436.04ZM439.77 563.60H441.63V651.90H439.77ZM443.50 563.60H444.90V651.90H443.50ZM406.20 566.25H444.90V568.90H406.20ZM406.20 571.55H444.90V574.20H406.20ZM406.20 576.85H444.90V579.50H406.20ZM406.20 582.15H444.90V584.80H406.20ZM406.20 587.45H444.90V590.10H406.20ZM406.20 592.75H444.90V595.40H406.20ZM406.20 598.05H444.90V600.70H406.20ZM406.20 603.35H444.90V606.00H406.20ZM406.20 608.65H444.90V611.30H406.20ZM406.20 613.95H444.90V616.60H406.20ZM406.20 619.25H444.90V621.90H406.20ZM406.20 624.55H444.90V627.20H406.20ZM406.20 629.85H444.90V632.50H406.20ZM406.20 635.15H444.90V637.80H406.20ZM406.20 640.45H444.90V643.10H406.20ZM406.20 645.75H444.90V648.40H406.20ZM406.20 651.05H444.90V651.90H406.20Z" fill="#000" fill-rule="evenodd"/>
<rect x="406.2" y="563.6" width="38.7" height="88.30" fill="none" stroke="#000" stroke-width="1.2"/>
<line x1="483.25" y1="415.6" x2="483.25" y2="455.5" stroke="#111" stroke-width="1.2"/>
<line x1="473.77" y1="415.6" x2="492.73" y2="415.6" stroke="#111" stroke-width="1.2"/>
<rect x="463.9" y="455.5" width="38.7" height="196.40" fill="#fff"/>
<path d="M467.63 455.50H471.36V651.90H467.63ZM475.09 455.50H478.82V651.90H475.09ZM482.55 455.50H486.28V651.90H482.55ZM490.01 455.50H493.74V651.90H490.01ZM497.47 455.50H501.20V651.90H497.47ZM463.90 460.80H502.60V466.10H463.90ZM463.90 471.40H502.60V476.70H463.90ZM463.90 482.00H502.60V487.30H463.90ZM463.90 492.60H502.60V497.90H463.90ZM463.90 503.20H502.60V508.50H463.90ZM463.90 513.80H502.60V519.10H463.90ZM463.90 524.40H502.60V529.70H463.90ZM463.90 535.00H502.60V540.30H463.90ZM463.90 545.60H502.60V550.90H463.90ZM463.90 556.20H502.60V561.50H463.90ZM463.90 566.80H502.60V572.10H463.90ZM463.90 577.40H502.60V582.70H463.90ZM463.90 588.00H502.60V593.30H463.90ZM463.90 598.60H502.60V603.90H463.90ZM463.90 609.20H502.60V614.50H463.90ZM463.90 619.80H502.60V625.10H463.90ZM463.90 630.40H502.60V635.70H463.90ZM463.90 641.00H502.60V646.30H463.90ZM463.90 651.60H502.60V651.90H463.90Z" fill="#000" fill-rule="evenodd"/>
<rect x="463.9" y="455.5" width="38.7" height="196.40" fill="none" stroke="#000" stroke-width="1.2"/>
<path d="M479.23 406.75L479.23 411.65M481.35 407.97L477.10 410.43M481.35 410.43L477.10 407.97" stroke="#2a2a2a" stroke-width="1.0" stroke-linecap="round"/><path d="M487.08 406.75L487.08 411.65M489.20 407.97L484.95 410.43M489.20 410.43L484.95 407.97" stroke="#2a2a2a" stroke-width="1.0" stroke-linecap="round"/>
<line x1="541.35" y1="482.3" x2="541.35" y2="511.7" stroke="#111" stroke-width="1.2"/>
<line x1="531.87" y1="482.3" x2="550.83" y2="482.3" stroke="#111" stroke-width="1.2"/>
<rect x="522" y="511.7" width="38.7" height="140.20" fill="#fff"/>
<path d="M522.00 517.15H560.70M522.00 522.60H560.70M522.00 528.05H560.70M522.00 533.50H560.70M522.00 538.95H560.70M522.00 544.40H560.70M522.00 549.85H560.70M522.00 555.30H560.70M522.00 560.75H560.70M522.00 566.20H560.70M522.00 571.65H560.70M522.00 577.10H560.70M522.00 582.55H560.70M522.00 588.00H560.70M522.00 593.45H560.70M522.00 598.90H560.70M522.00 604.35H560.70M522.00 609.80H560.70M522.00 615.25H560.70M522.00 620.70H560.70M522.00 626.15H560.70M522.00 631.60H560.70M522.00 637.05H560.70M522.00 642.50H560.70M522.00 647.95H560.70" stroke="#111" stroke-width="1.1"/>
<rect x="522" y="511.7" width="38.7" height="140.20" fill="none" stroke="#000" stroke-width="1.2"/>
<path d="M530.08 469.85L529.38 477.55M532.27 469.85L531.58 477.55" stroke="#2a2a2a" stroke-width="0.9"/><path d="M527.98 472.50H533.48M527.77 475.50H533.27" stroke="#2a2a2a" stroke-width="1.0"/><path d="M536.48 469.85L535.77 477.55M538.67 469.85L537.98 477.55" stroke="#2a2a2a" stroke-width="0.9"/><path d="M534.38 472.50H539.88M534.17 475.50H539.67" stroke="#2a2a2a" stroke-width="1.0"/><path d="M544.38 471.90L544.38 476.80M546.50 473.12L542.25 475.57M546.50 475.57L542.25 473.12" stroke="#2a2a2a" stroke-width="1.0" stroke-linecap="round"/><path d="M552.23 471.90L552.23 476.80M554.35 473.12L550.10 475.57M554.35 475.57L550.10 473.12" stroke="#2a2a2a" stroke-width="1.0" stroke-linecap="round"/>
<line x1="598.65" y1="479.8" x2="598.65" y2="507.1" stroke="#111" stroke-width="1.2"/>
<line x1="589.17" y1="479.8" x2="608.13" y2="479.8" stroke="#111" stroke-width="1.2"/>
<rect x="579.3" y="507.1" width="38.7" height="144.80" fill="#fff"/>
<path d="M584.14 507.10V651.90M588.97 507.10V651.90M593.81 507.10V651.90M598.65 507.10V651.90M603.49 507.10V651.90M608.32 507.10V651.90M613.16 507.10V651.90" stroke="#111" stroke-width="1.1"/>
<rect x="579.3" y="507.1" width="38.7" height="144.80" fill="none" stroke="#000" stroke-width="1.2"/>
<path d="M587.38 466.25L586.67 473.95M589.57 466.25L588.88 473.95" stroke="#2a2a2a" stroke-width="0.9"/><path d="M585.27 469.50H590.77M585.07 471.50H590.57" stroke="#2a2a2a" stroke-width="1.0"/><path d="M593.77 466.25L593.07 473.95M595.97 466.25L595.27 473.95" stroke="#2a2a2a" stroke-width="0.9"/><path d="M591.67 469.50H597.17M591.47 471.50H596.97" stroke="#2a2a2a" stroke-width="1.0"/><path d="M601.67 468.30L601.67 473.20M603.80 469.52L599.55 471.98M603.80 471.98L599.55 469.52" stroke="#2a2a2a" stroke-width="1.0" stroke-linecap="round"/><path d="M609.52 468.30L609.52 473.20M611.65 469.52L607.40 471.98M611.65 471.98L607.40 469.52" stroke="#2a2a2a" stroke-width="1.0" stroke-linecap="round"/>
<line x1="657.05" y1="475.6" x2="657.05" y2="503.2" stroke="#111" stroke-width="1.2"/>
<line x1="647.57" y1="475.6" x2="666.53" y2="475.6" stroke="#111" stroke-width="1.2"/>
<rect x="637.7" y="503.2" width="38.7" height="148.70" fill="#fff"/>
<path d="M637.70 506.10L639.90 503.20M637.70 511.50L644.00 503.20M637.70 516.90L648.10 503.20M637.70 522.30L652.20 503.20M637.70 527.70L656.30 503.20M637.70 533.10L660.40 503.20M637.70 538.50L664.50 503.20M637.70 543.90L668.60 503.20M637.70 549.30L672.70 503.20M637.70 554.70L676.40 503.73M637.70 560.10L676.40 509.13M637.70 565.50L676.40 514.53M637.70 570.90L676.40 519.93M637.70 576.30L676.40 525.33M637.70 581.70L676.40 530.73M637.70 587.10L676.40 536.13M637.70 592.50L676.40 541.53M637.70 597.90L676.40 546.93M637.70 603.30L676.40 552.33M637.70 608.70L676.40 557.73M637.70 614.10L676.40 563.13M637.70 619.50L676.40 568.53M637.70 624.90L676.40 573.93M637.70 630.30L676.40 579.33M637.70 635.70L676.40 584.73M637.70 641.10L676.40 590.13M637.70 646.50L676.40 595.53M637.70 651.90L676.40 600.93M641.80 651.90L676.40 606.33M645.90 651.90L676.40 611.73M650.00 651.90L676.40 617.13M654.10 651.90L676.40 622.53M658.20 651.90L676.40 627.93M662.30 651.90L676.40 633.33M666.40 651.90L676.40 638.73M670.50 651.90L676.40 644.13M674.60 651.90L676.40 649.53" stroke="#000" stroke-width="1.1"/>
<rect x="637.7" y="503.2" width="38.7" height="148.70" fill="none" stroke="#000" stroke-width="1.2"/>
<path d="M645.78 462.95L645.08 470.65M647.98 462.95L647.28 470.65" stroke="#2a2a2a" stroke-width="0.9"/><path d="M643.68 465.50H649.18M643.48 468.50H648.98" stroke="#2a2a2a" stroke-width="1.0"/><path d="M652.18 462.95L651.48 470.65M654.38 462.95L653.68 470.65" stroke="#2a2a2a" stroke-width="0.9"/><path d="M650.08 465.50H655.58M649.88 468.50H655.38" stroke="#2a2a2a" stroke-width="1.0"/><path d="M660.08 465.00L660.08 469.90M662.20 466.22L657.95 468.68M662.20 468.68L657.95 466.22" stroke="#2a2a2a" stroke-width="1.0" stroke-linecap="round"/><path d="M667.93 465.00L667.93 469.90M670.05 466.22L665.80 468.68M670.05 468.68L665.80 466.22" stroke="#2a2a2a" stroke-width="1.0" stroke-linecap="round"/>
<line x1="391.5" y1="651.9" x2="686" y2="651.9" stroke="#2a2a2a" stroke-width="1.2"/>
<line x1="541.4" y1="651.9" x2="541.4" y2="659" stroke="#2a2a2a" stroke-width="1.2"/>
<text transform="translate(359.2 518.70) rotate(-90)" text-anchor="middle" class="t" textLength="79.5" lengthAdjust="spacingAndGlyphs">LDL (mmol/L)</text>
<rect x="398.20" y="683.00" width="14.0" height="7.4" fill="#aaa"/>
<path d="M398.20 683.00H399.60V690.40H398.20ZM401.00 683.00H402.40V690.40H401.00ZM403.80 683.00H405.20V690.40H403.80ZM406.60 683.00H408.00V690.40H406.60ZM409.40 683.00H410.80V690.40H409.40ZM398.20 684.85H412.20V686.70H398.20ZM398.20 688.55H412.20V690.40H398.20Z" fill="#000" fill-rule="evenodd"/>
<rect x="398.20" y="683.00" width="14.0" height="7.4" rx="0.7" fill="none" stroke="#000" stroke-width="1.25"/>
<text x="420.60" y="689.80" class="t" textLength="41.6" lengthAdjust="spacingAndGlyphs">Control</text>
<rect x="398.20" y="699.60" width="14.0" height="7.4" fill="#fff"/>
<path d="M401.00 699.60H403.80V707.00H401.00ZM406.60 699.60H409.40V707.00H406.60ZM398.20 702.07H412.20V704.54H398.20Z" fill="#000" fill-rule="evenodd"/>
<rect x="398.20" y="699.60" width="14.0" height="7.4" rx="0.7" fill="none" stroke="#000" stroke-width="1.25"/>
<text x="420.60" y="706.67" class="t" textLength="26.8" lengthAdjust="spacingAndGlyphs">HFD</text>
<rect x="398.20" y="716.20" width="14.0" height="7.4" fill="#fff"/>
<path d="M398.20 718.5H412.20M398.20 721.5H412.20" stroke="#333" stroke-width="0.9"/>
<rect x="398.20" y="716.20" width="14.0" height="7.4" rx="0.7" fill="none" stroke="#000" stroke-width="1.25"/>
<text x="420.60" y="723.55" class="t" textLength="43.4" lengthAdjust="spacingAndGlyphs">ECYCD</text>
<rect x="503.50" y="683.75" width="14.0" height="7.4" fill="#fff"/>
<path d="M507.00 683.75V691.15M510.50 683.75V691.15M514.00 683.75V691.15" stroke="#333" stroke-width="0.9"/>
<rect x="503.50" y="683.75" width="14.0" height="7.4" rx="0.7" fill="none" stroke="#000" stroke-width="1.25"/>
<text x="525.40" y="690.30" class="t" textLength="71.9" lengthAdjust="spacingAndGlyphs">Rosiglitazone</text>
<rect x="503.50" y="700.35" width="14.0" height="7.4" fill="#fff"/>
<path d="M503.50 702.35L505.50 700.35M503.50 705.05L508.20 700.35M503.50 707.75L510.90 700.35M506.20 707.75L513.60 700.35M508.90 707.75L516.30 700.35M511.60 707.75L517.50 701.85M514.30 707.75L517.50 704.55M517.00 707.75L517.50 707.25" stroke="#111" stroke-width="0.9"/>
<rect x="503.50" y="700.35" width="14.0" height="7.4" rx="0.7" fill="none" stroke="#000" stroke-width="1.25"/>
<text x="525.40" y="707.17" class="t" textLength="154.0" lengthAdjust="spacingAndGlyphs">Polyenylphosphatidylcholine</text>
<text x="515.7" y="745.0" text-anchor="middle" class="t">(d)</text>
</svg>
</body></html>
